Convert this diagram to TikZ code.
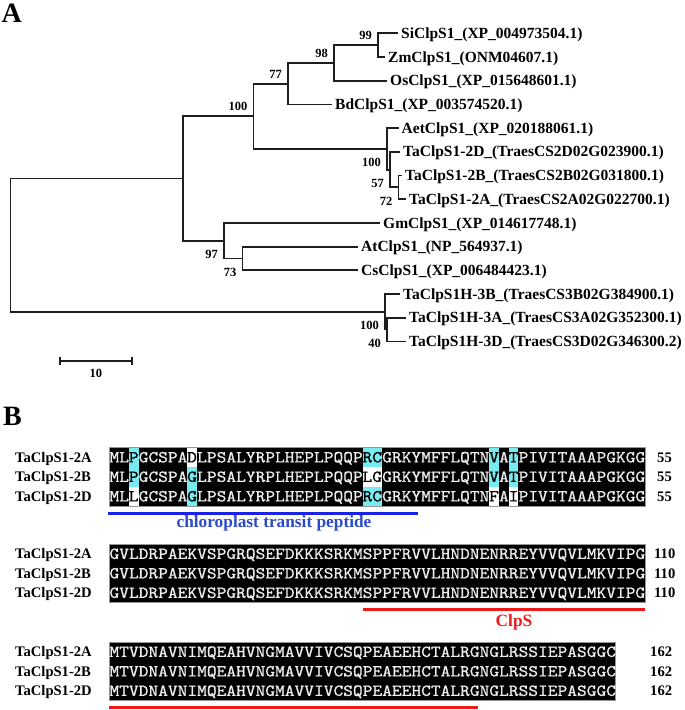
\documentclass[tikz,border=0pt]{standalone}
\usepackage{fontspec}
\setmainfont{Liberation Serif}
\newfontfamily\seqfont{lmmono10-regular.otf}[FakeBold=0.9]
\usepackage{graphicx}
\usetikzlibrary{calc}
\definecolor{treec}{RGB}{30,30,30}
\definecolor{cy}{RGB}{120,235,240}
\definecolor{bline}{RGB}{25,35,230}
\definecolor{btext}{RGB}{45,75,200}
\definecolor{rline}{RGB}{238,25,25}
\definecolor{boxgray}{RGB}{150,150,150}
\definecolor{seqwhite}{RGB}{238,238,238}
\newcommand\sq[1]{\scalebox{1.1043}[1]{\fontsize{16.8}{16.8}\seqfont #1}}
% cell: column, row top, fill, text colour, letter, name
\newcommand\cell[6]{%
  \fill[#3] ({109.3+(#1-1)*9.74},#2) rectangle ++(9.74,19.5);
  \node[seqch,text=#4] (#6) at ({109.3+(#1-0.5)*9.74},{#2+14.9}) {\sq{#5}};
}
% seg: start column, baseline, letters, name
\newcommand\seg[4]{%
  \node[seqrow] (#4) at ({109.3+(#1-1)*9.74},#2) {\sq{#3}};
}
\newcommand\rowone[2]{% baseline, name prefix
  \seg{1}{#1}{ML}{#2a}
  \seg{4}{#1}{GCSPA}{#2b}
  \seg{10}{#1}{LPSALYRPLHEPLPQQP}{#2c}
  \seg{29}{#1}{GRKYMFFLQTN}{#2d}
  \seg{41}{#1}{A}{#2e}
  \seg{43}{#1}{PIVITAAAPGKGG}{#2f}
}
\begin{document}
\begin{tikzpicture}[x=1pt,y=-1pt,
  br/.style={line width=1.8pt, draw=treec, line join=miter},
  leaf/.style={anchor=base west, inner sep=0pt, font=\fontsize{15.5}{15.5}\selectfont\bfseries},
  bs/.style={anchor=east, inner sep=0pt, font=\fontsize{12.5}{12.5}\selectfont\bfseries},
  panel/.style={anchor=base west, inner sep=0pt, font=\fontsize{28}{28}\selectfont\bfseries},
  nm/.style={anchor=base west, inner sep=0pt, font=\fontsize{14.6}{14.6}\selectfont\bfseries},
  seqrow/.style={anchor=base west, inner sep=0pt, text=seqwhite},
  seqch/.style={anchor=base, inner sep=0pt},
  blk/.style={fill=black, draw=boxgray, line width=0.8pt},
  sbar/.style={line width=1.8pt, draw=treec},
  blueline/.style={line width=3pt, draw=bline},
  redline/.style={line width=3pt, draw=rline},
  bluet/.style={anchor=base, inner sep=0pt, text=btext, font=\fontsize{17.3}{17.3}\selectfont\bfseries},
  redt/.style={anchor=base, inner sep=0pt, text=rline, font=\fontsize{17.3}{17.3}\selectfont\bfseries}]
\useasboundingbox (0,0) rectangle (685,710);

% ---------------- Panel A: tree ----------------
\node[panel] (pA) at (1.5,22) {A};

% tips
\coordinate (tSi) at (398,33.3);
\coordinate (tZm) at (385,57);
\coordinate (tOs) at (387,80.7);
\coordinate (tBd) at (332,104.4);
\coordinate (tAet) at (398.5,128.1);
\coordinate (tTD) at (400,151.8);
\coordinate (tTB) at (402,175.5);
\coordinate (tTA) at (406,199.2);
\coordinate (tGm) at (380,222.9);
\coordinate (tAt) at (358,246.6);
\coordinate (tCs) at (358,270.3);
\coordinate (tH3B) at (400,294);
\coordinate (tH3A) at (406,317.7);
\coordinate (tH3D) at (406,341.4);

% internal nodes
\coordinate (n99) at (378,45.15);
\coordinate (n98) at (334,62.9);
\coordinate (n77) at (288,83.65);
\coordinate (nBA) at (398.5,187.35);
\coordinate (n2D) at (390,169.6);
\coordinate (nW) at (387,148.85);
\coordinate (nG) at (253.5,116.25);
\coordinate (nAC) at (242.5,258.45);
\coordinate (nD) at (224,240.7);
\coordinate (nU) at (183,178.5);
\coordinate (n3AD) at (387,329.55);
\coordinate (n3H) at (385,311.8);
\coordinate (root) at (10.5,245.15);

% leaf labels
\node[leaf] (Si) at ([xshift=3pt,yshift=-5.1pt]tSi) {SiClpS1\_(XP\_004973504.1)};
\node[leaf] (Zm) at ([xshift=3pt,yshift=-5.1pt]tZm) {ZmClpS1\_(ONM04607.1)};
\node[leaf] (Os) at ([xshift=3pt,yshift=-5.1pt]tOs) {OsClpS1\_(XP\_015648601.1)};
\node[leaf] (Bd) at ([xshift=3pt,yshift=-5.1pt]tBd) {BdClpS1\_(XP\_003574520.1)};
\node[leaf] (Aet) at ([xshift=3pt,yshift=-5.1pt]tAet) {AetClpS1\_(XP\_020188061.1)};
\node[leaf] (TD) at ([xshift=3pt,yshift=-5.1pt]tTD) {TaClpS1-2D\_(TraesCS2D02G023900.1)};
\node[leaf] (TB) at ([xshift=3pt,yshift=-5.1pt]tTB) {TaClpS1-2B\_(TraesCS2B02G031800.1)};
\node[leaf] (TA) at ([xshift=3pt,yshift=-5.1pt]tTA) {TaClpS1-2A\_(TraesCS2A02G022700.1)};
\node[leaf] (Gm) at ([xshift=3pt,yshift=-5.1pt]tGm) {GmClpS1\_(XP\_014617748.1)};
\node[leaf] (At) at ([xshift=3pt,yshift=-5.1pt]tAt) {AtClpS1\_(NP\_564937.1)};
\node[leaf] (Cs) at ([xshift=3pt,yshift=-5.1pt]tCs) {CsClpS1\_(XP\_006484423.1)};
\node[leaf] (H3B) at ([xshift=3pt,yshift=-5.1pt]tH3B) {TaClpS1H-3B\_(TraesCS3B02G384900.1)};
\node[leaf] (H3A) at ([xshift=3pt,yshift=-5.1pt]tH3A) {TaClpS1H-3A\_(TraesCS3A02G352300.1)};
\node[leaf] (H3D) at ([xshift=3pt,yshift=-5.1pt]tH3D) {TaClpS1H-3D\_(TraesCS3D02G346300.2)};

% branches
\draw[br] (n99) |- (tSi);  \draw[br] (n99) |- (tZm);
\draw[br] (n98) |- (n99);  \draw[br] (n98) |- (tOs);
\draw[br] (n77) |- (n98);  \draw[br] (n77) |- (tBd);
\draw[br] (nBA) |- (tTB);  \draw[br] (nBA) |- (tTA);
\draw[br] (n2D) |- (tTD);  \draw[br] (n2D) |- (nBA);
\draw[br] (nW) |- (tAet);  \draw[br] (nW) |- (n2D);
\draw[br] (nG) |- (n77);   \draw[br] (nG) |- (nW);
\draw[br] (nAC) |- (tAt);  \draw[br] (nAC) |- (tCs);
\draw[br] (nD) |- (tGm);   \draw[br] (nD) |- (nAC);
\draw[br] (nU) |- (nG);    \draw[br] (nU) |- (nD);
\draw[br] (n3AD) |- (tH3A); \draw[br] (n3AD) |- (tH3D);
\draw[br] (n3H) |- (tH3B); \draw[br] (n3H) |- (n3AD);
\draw[br] (root) |- (nU);  \draw[br] (root) |- (n3H);

% bootstrap values
\node[bs] (b99) at ([xshift=-6pt,yshift=9.5pt]n99) {99};
\node[bs] (b98) at ([xshift=-6pt,yshift=9.5pt]n98) {98};
\node[bs] (b77) at ([xshift=-6pt,yshift=9.5pt]n77) {77};
\node[bs] (bG) at ([xshift=-6pt,yshift=9.5pt]nG) {100};
\node[bs] (bW) at ([xshift=-6pt,yshift=-13.8pt]nW) {100};
\node[bs] (b57) at ([xshift=-6pt,yshift=-13.8pt]n2D) {57};
\node[bs] (b72) at ([xshift=-6pt,yshift=-13.8pt]nBA) {72};
\node[bs] (b97) at ([xshift=-6pt,yshift=-13.8pt]nD) {97};
\node[bs] (b73) at ([xshift=-6pt,yshift=-13.8pt]nAC) {73};
\node[bs] (b3H) at ([xshift=-6pt,yshift=-13.8pt]n3H) {100};
\node[bs] (b40) at ([xshift=-6pt,yshift=-13.8pt]n3AD) {40};

% scale bar
\coordinate (sbL) at (60,361);
\coordinate (sbR) at (131.7,361);
\draw[sbar] (sbL) -- (sbR);
\draw[sbar] ([yshift=4.3pt]sbL) -- ([yshift=-4.3pt]sbL);
\draw[sbar] ([yshift=4.3pt]sbR) -- ([yshift=-4.3pt]sbR);
\node[bs,anchor=center] (sbt) at (95.8,373.3) {10};

% ---------------- Panel B: alignment ----------------
\node[panel] (pB) at (3,425) {B};

% block 1
\draw[blk] (109.3,447.5) rectangle (645,506);
\rowone{462.4}{s1a}
\rowone{481.9}{s1b}
\rowone{501.4}{s1d}
% row 2A
\cell{3}{447.5}{cy}{black}{P}{c1}
\cell{9}{447.5}{white}{black}{D}{c2}
\cell{27}{447.5}{cy}{black}{R}{c3}
\cell{28}{447.5}{cy}{black}{C}{c4}
\cell{40}{447.5}{cy}{black}{V}{c5}
\cell{42}{447.5}{cy}{black}{T}{c6}
% row 2B
\cell{3}{467}{cy}{black}{P}{c7}
\cell{9}{467}{cy}{black}{G}{c8}
\cell{27}{467}{white}{black}{L}{c9}
\cell{28}{467}{white}{black}{G}{c10}
\cell{40}{467}{cy}{black}{V}{c11}
\cell{42}{467}{cy}{black}{T}{c12}
% row 2D
\cell{3}{486.5}{white}{black}{L}{c13}
\cell{9}{486.5}{cy}{black}{G}{c14}
\cell{27}{486.5}{cy}{black}{R}{c15}
\cell{28}{486.5}{cy}{black}{C}{c16}
\cell{40}{486.5}{white}{black}{F}{c17}
\cell{42}{486.5}{white}{black}{I}{c18}

\node[nm] (l1a) at (15,462.4) {TaClpS1-2A};
\node[nm] (l1b) at (15,481.9) {TaClpS1-2B};
\node[nm] (l1d) at (15,501.4) {TaClpS1-2D};
\node[nm] (e1a) at (657,462.4) {55};
\node[nm] (e1b) at (657,481.9) {55};
\node[nm] (e1d) at (657,501.4) {55};

\coordinate (ctpL) at (108,513);
\coordinate (ctpR) at (418,513);
\draw[blueline] (ctpL) -- (ctpR);
\node[bluet] (ctp) at (274,527) {chloroplast transit peptide};

% block 2
\draw[blk] (109.3,544) rectangle (645,602.5);
\seg{1}{558.9}{GVLDRPAEKVSPGRQSEFDKKKSRKMSPPFRVVLHNDNENRREYVVQVLMKVIPG}{s2a}
\seg{1}{578.4}{GVLDRPAEKVSPGRQSEFDKKKSRKMSPPFRVVLHNDNENRREYVVQVLMKVIPG}{s2b}
\seg{1}{597.9}{GVLDRPAEKVSPGRQSEFDKKKSRKMSPPFRVVLHNDNENRREYVVQVLMKVIPG}{s2d}
\node[nm] (l2a) at (15,558.9) {TaClpS1-2A};
\node[nm] (l2b) at (15,578.4) {TaClpS1-2B};
\node[nm] (l2d) at (15,597.9) {TaClpS1-2D};
\node[nm] (e2a) at (654,558.9) {110};
\node[nm] (e2b) at (654,578.4) {110};
\node[nm] (e2d) at (654,597.9) {110};

\coordinate (cs1L) at (362.5,609);
\coordinate (cs1R) at (645,609);
\draw[redline] (cs1L) -- (cs1R);
\node[redt] (clps) at (514,626.5) {ClpS};

% block 3
\draw[blk] (109.3,642) rectangle (615.8,700.5);
\seg{1}{656.9}{MTVDNAVNIMQEAHVNGMAVVIVCSQPEAEEHCTALRGNGLRSSIEPASGGC}{s3a}
\seg{1}{676.4}{MTVDNAVNIMQEAHVNGMAVVIVCSQPEAEEHCTALRGNGLRSSIEPASGGC}{s3b}
\seg{1}{695.9}{MTVDNAVNIMQEAHVNGMAVVIVCSQPEAEEHCTALRGNGLRSSIEPASGGC}{s3d}
\node[nm] (l3a) at (15,656.9) {TaClpS1-2A};
\node[nm] (l3b) at (15,676.4) {TaClpS1-2B};
\node[nm] (l3d) at (15,695.9) {TaClpS1-2D};
\node[nm] (e3a) at (650,656.9) {162};
\node[nm] (e3b) at (650,676.4) {162};
\node[nm] (e3d) at (650,695.9) {162};

\coordinate (cs2L) at (109,707);
\coordinate (cs2R) at (478,707);
\draw[redline] (cs2L) -- (cs2R);
\end{tikzpicture}
\end{document}
